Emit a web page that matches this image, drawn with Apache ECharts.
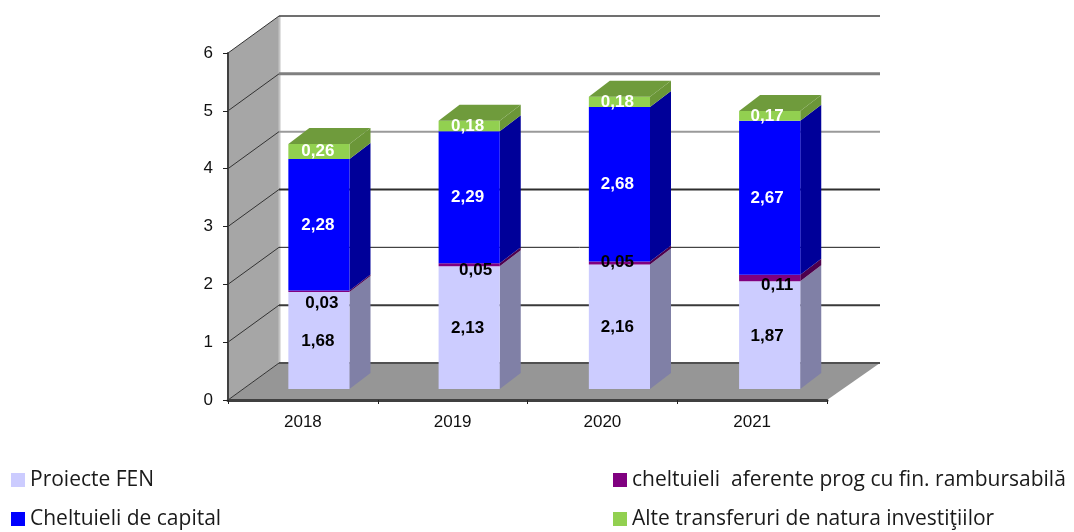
<!DOCTYPE html>
<html>
<head>
<meta charset="utf-8">
<title>Chart</title>
<script src="https://cdn.jsdelivr.net/npm/echarts@6/dist/echarts.min.js"></script>
<style>
  html, body { margin: 0; padding: 0; background: #fff; }
  #chart { width: 1074px; height: 532px; }
</style>
</head>
<body>
<div id="chart"></div>
<script>
const years = ['2018', '2019', '2020', '2021']
const yTicks = [0, 1, 2, 3, 4, 5, 6]

const proiecteFen = [1.68, 2.13, 2.16, 1.87]
const rambursabila = [0.03, 0.05, 0.05, 0.11]
const capital = [2.28, 2.29, 2.68, 2.67]
const alteTransferuri = [0.26, 0.18, 0.18, 0.17]

const layerNames = [
  'Proiecte FEN',
  'cheltuieli  aferente prog cu fin. rambursabilă',
  'Cheltuieli de capital',
  'Alte transferuri de natura investiţiilor',
]
const layerValues = [proiecteFen, rambursabila, capital, alteTransferuri]
const frontColors = ['#ccccff', '#800080', '#0000ff', '#92d050']
const sideColors = ['#8080a6', '#4d004d', '#000099', '#6b9638']
const labelColors = ['#000', '#000', '#fff', '#fff']

// the purple labels were moved by hand in the original
const purpleNudge = [[4, 11], [8, 5], [0, -1], [10, 7]]

// back wall lines, one per tick (the source picture was resampled, hence the uneven look)
const wallLineColors = ['#505050', '#3a3a3a', '#1a1a1a', '#2e2e2e', '#9a9a9a', '#808080', '#404040']
const wallLineWidths = [2, 2, 1, 2, 2, 3, 1.5]

const wallDepth = [51, -37]
const barDepth = [21, -16]
const labelShift = [15, -10]

const chart = echarts.init(document.getElementById('chart'))

function poly(points, fill) {
  return { type: 'polygon', shape: { points }, style: { fill }, silent: true }
}

function renderWalls(params, api) {
  const c = params.coordSys
  const y0 = c.y + c.height
  const right = c.x + c.width
  const [dx, dy] = wallDepth
  return {
    type: 'group',
    children: [
      poly([[c.x, c.y], [c.x + dx, c.y + dy], [c.x + dx, y0 + dy], [c.x, y0]], '#a6a6a6'),
      poly([[c.x, y0], [c.x + dx, y0 + dy], [right + dx + 2, y0 + dy], [right, y0]], '#969696'),
      { type: 'rect', shape: { x: c.x + dx - 0.5, y: c.y + dy, width: 2, height: c.height }, style: { fill: '#c4c4c4' }, silent: true },
    ],
  }
}

function renderWallLine(params, api) {
  const c = params.coordSys
  const i = api.value(0)
  const y = api.coord([0, api.value(1)])[1]
  const [dx, dy] = wallDepth
  const backX = c.x + dx
  return {
    type: 'group',
    children: [
      { type: 'line', shape: { x1: c.x, y1: y, x2: backX, y2: y + dy }, style: { stroke: '#333', lineWidth: 1 }, silent: true },
      { type: 'line', shape: { x1: backX, y1: y + dy, x2: c.x + c.width + dx + 2, y2: y + dy }, style: { stroke: wallLineColors[i], lineWidth: wallLineWidths[i] }, silent: true },
    ],
  }
}

function makeBarRenderer(layer) {
  return function (params, api) {
    const i = api.value(0)
    const bottom = api.coord([i, api.value(1)])
    const top = api.coord([i, api.value(2)])
    const w = api.size([1, 0])[0] * 0.407
    const x0 = bottom[0] - w / 2
    const x1 = bottom[0] + w / 2
    const [dx, dy] = barDepth
    const children = [
      poly([[x1, bottom[1]], [x1 + dx, bottom[1] + dy], [x1 + dx, top[1] + dy], [x1, top[1]]], sideColors[layer]),
      poly([[x0, bottom[1]], [x1, bottom[1]], [x1, top[1]], [x0, top[1]]], frontColors[layer]),
    ]
    if (layer === layerValues.length - 1) {
      children.push(poly([[x0, top[1]], [x1, top[1]], [x1 + dx, top[1] + dy], [x0 + dx, top[1] + dy]], '#6f9b3c'))
    }
    return { type: 'group', children }
  }
}

const barSeries = layerValues.map((values, layer) => ({
  name: layerNames[layer],
  type: 'custom',
  xAxisIndex: 1,
  yAxisIndex: 1,
  z: 3,
  silent: true,
  itemStyle: { color: frontColors[layer] },
  renderItem: makeBarRenderer(layer),
  encode: { x: 0, y: [1, 2] },
  data: values.map((v, i) => {
    let base = 0
    for (let k = 0; k < layer; k++) base += layerValues[k][i]
    return [i, base, base + v]
  }),
}))

const labelData = []
layerValues.forEach((values, layer) => {
  values.forEach((v, i) => {
    let base = 0
    for (let k = 0; k < layer; k++) base += layerValues[k][i]
    labelData.push([i, base + v / 2, layer, v])
  })
})

const labelSeries = {
  type: 'custom',
  xAxisIndex: 0,
  yAxisIndex: 0,
  z: 6,
  silent: true,
  renderItem(params, api) {
    const i = api.value(0)
    const layer = api.value(2)
    const p = api.coord([i, api.value(1)])
    const nudge = layer === 1 ? purpleNudge[i] : [0, 0]
    return {
      type: 'text',
      x: p[0] + labelShift[0] + nudge[0],
      y: p[1] + labelShift[1] + nudge[1],
      style: {
        text: api.value(3).toFixed(2).replace('.', ','),
        fill: labelColors[layer],
        font: 'bold 17px "Liberation Sans", Arial, sans-serif',
        textAlign: 'center',
        textVerticalAlign: 'middle',
      },
    }
  },
  data: labelData,
}

const legendBase = {
  orient: 'vertical',
  icon: 'rect',
  itemWidth: 14,
  itemHeight: 14,
  itemGap: 13,
  padding: 0,
  selectedMode: false,
  textStyle: { fontFamily: '"Open Sans"', fontSize: 21, lineHeight: 26, color: '#1a1a1a' },
}

chart.setOption({
  animation: false,
  backgroundColor: '#fff',
  textStyle: { fontFamily: '"Liberation Sans", Arial, sans-serif' },
  legend: [
    { ...legendBase, left: 11, top: 467, data: [layerNames[0], layerNames[2]] },
    { ...legendBase, left: 613, top: 467, data: [layerNames[1], layerNames[3]] },
  ],
  grid: [
    { left: 228, top: 53, width: 599, height: 347 },
    { left: 243.8, top: 43, width: 601, height: 346 },
  ],
  xAxis: [
    {
      type: 'category',
      gridIndex: 0,
      data: years,
      z: 4,
      axisLine: { lineStyle: { color: '#404040', width: 3 } },
      axisTick: { show: true, length: 4, lineStyle: { color: '#222', width: 1 } },
      axisLabel: { color: '#111', fontSize: 17, margin: 14 },
    },
    { type: 'category', gridIndex: 1, data: years, show: false },
  ],
  yAxis: [
    {
      type: 'value',
      gridIndex: 0,
      min: yTicks[0],
      max: yTicks[yTicks.length - 1],
      interval: 1,
      z: 4,
      splitLine: { show: false },
      axisLine: { show: true, lineStyle: { color: '#404040', width: 2 } },
      axisTick: { show: true, length: 5, lineStyle: { color: '#222', width: 1 } },
      axisLabel: { color: '#111', fontSize: 17, margin: 15, padding: [6, 0, 0, 0] },
    },
    { type: 'value', gridIndex: 1, min: 0, max: 6, interval: 1, show: false },
  ],
  series: [
    {
      type: 'custom',
      xAxisIndex: 0,
      yAxisIndex: 0,
      z: 1,
      silent: true,
      renderItem: renderWalls,
      data: [[0, 0]],
    },
    {
      type: 'custom',
      xAxisIndex: 0,
      yAxisIndex: 0,
      z: 2,
      silent: true,
      renderItem: renderWallLine,
      data: yTicks.map((t, i) => [i, t]),
      encode: { y: 1 },
    },
    ...barSeries,
    labelSeries,
  ],
})
</script>
</body>
</html>
